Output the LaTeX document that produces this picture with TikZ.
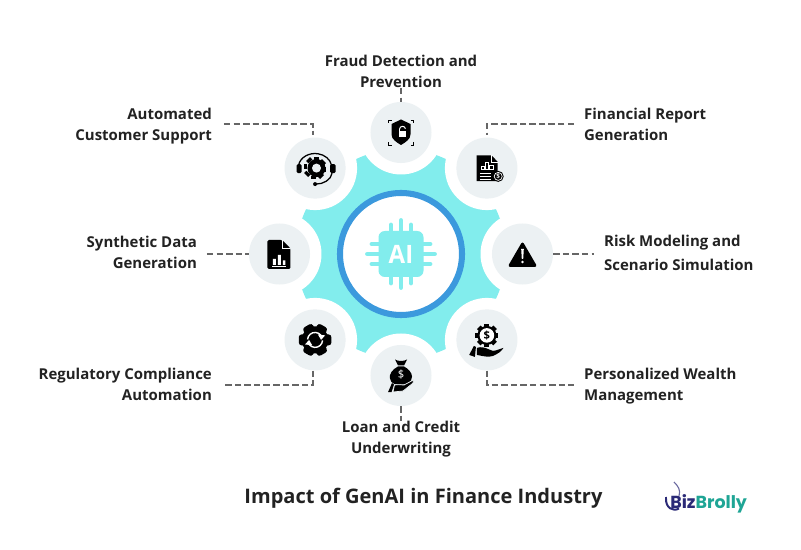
\documentclass[tikz,border=0pt]{standalone}
\usepackage{fontspec}
\setmainfont{Open Sans}
\newfontfamily\logofont{Poppins}
\definecolor{hubteal}{HTML}{82EDED}
\definecolor{ringblue}{HTML}{3B99DD}
\definecolor{badgegrey}{HTML}{ECF1F3}
\definecolor{inkdark}{HTML}{222222}
\definecolor{dashgrey}{HTML}{666666}
\definecolor{logonavy}{HTML}{2B2A77}
\definecolor{logoteal}{HTML}{1FA595}
\tikzset{
	badge/.style={circle, fill=badgegrey, minimum size=1.525cm, inner sep=0pt},
	halo/.style={fill=white},
	lbl/.style={font=\fontsize{10.65}{14.9}\selectfont\bfseries, text=inkdark, inner xsep=7pt, inner ysep=0pt},
	dashline/.style={draw=dashgrey, line width=1.2pt, dash pattern=on 4.6pt off 2.2pt},
	pin/.style={draw=hubteal, line width=3.5pt, line cap=round}
}

\begin{document}
\begin{tikzpicture}[x=0.025cm, y=0.025cm]
	\useasboundingbox (-401,-296) rectangle (400,254);
	% hub
	\fill[hubteal] (0,0) circle (105);
	\foreach \a in {0,45,...,315}
		\fill[halo] (\a:121.5) circle (42);
	\filldraw[draw=ringblue, fill=white, line width=4.3pt] (0,0) circle (61);
	% chip
	\fill[hubteal, rounded corners=4.5pt] (-22.5,-23) rectangle (22.5,23);
	\foreach \a in {0,90,180,270} {
		\draw[pin, rotate=\a] (-10,23) -- (-10,29);
		\draw[pin, rotate=\a] (0,23) -- (0,33.5);
		\draw[pin, rotate=\a] (10,23) -- (10,29);
	}
	\node[white, font=\fontsize{18}{18}\selectfont\bfseries, xscale=0.95, inner sep=0pt] (aitext) at (0,0) {AI};
	% badges
	\node[badge] (fraudbadge) at (90:121.5) {};
	\node[badge] (reportbadge) at (45:121.5) {};
	\node[badge] (riskbadge) at (0:121.5) {};
	\node[badge] (wealthbadge) at (-45:121.5) {};
	\node[badge] (loanbadge) at (-90:121.5) {};
	\node[badge] (compbadge) at (-135:121.5) {};
	\node[badge] (synthbadge) at (180:121.5) {};
	\node[badge] (supportbadge) at (135:121.5) {};
	% labels
	\node[lbl, align=center] (fraudtext) at (0,182.5) {Fraud Detection and\\Prevention};
	\node[lbl, align=right, anchor=east] (supporttext) at (-179,128) {Automated\\Customer Support};
	\node[lbl, align=left, anchor=west] (reporttext) at (173,130) {Financial Report\\Generation};
	\node[lbl, align=right, anchor=east] (synthtext) at (-194,2) {Synthetic Data\\Generation};
	\node[lbl, align=left, anchor=west] (risktext) at (193,1) {Risk Modeling and\\[2.2pt]Scenario Simulation};
	\node[lbl, align=right, anchor=east] (comptext) at (-179,-130) {Regulatory Compliance\\Automation};
	\node[lbl, align=left, anchor=west] (wealthtext) at (173,-132) {Personalized Wealth\\Management};
	\node[lbl, align=center] (loantext) at (0,-185) {Loan and Credit\\Underwriting};
	\node[text=inkdark, font=\fontsize{14.25}{16}\selectfont\bfseries, inner sep=0pt] (titletext) at (22.5,-244) {Impact of GenAI in Finance Industry};
	% connectors
	\coordinate (supportend) at (-177,130);
	\coordinate (reportend) at (173,130);
	\coordinate (compend) at (-177,-131);
	\coordinate (wealthend) at (173,-131);
	\draw[dashline] (fraudtext.south) -- (fraudbadge.north);
	\draw[dashline, shorten >=1.5pt] (supportend) -| (supportbadge.94);
	\draw[dashline, shorten >=1.5pt] (reportend) -| (reportbadge.north);
	\draw[dashline] (synthtext.east |- synthbadge.west) -- (synthbadge.west);
	\draw[dashline] (riskbadge.east) -- (risktext.west |- riskbadge.east);
	\draw[dashline] (compbadge.266) |- (compend);
	\draw[dashline] (wealthbadge.south) |- (wealthend);
	\draw[dashline] (loanbadge.south) -- (loantext.north);
	% shield
	\begin{scope}[shift={(fraudbadge)}]
		\fill (0,13) -- (9.5,8.5) -- (9.5,-2) .. controls (9.5,-7) and (4,-10) .. (0,-12.5) .. controls (-4,-10) and (-9.5,-7) .. (-9.5,-2) -- (-9.5,8.5) -- cycle;
		\fill[white] (-2.5,-4.5) rectangle (5,1);
		\draw[white, line width=0.7pt] (-1.5,1) -- (-1.5,3.2) arc (180:10:3);
		\foreach \a in {0,90,180,270}
			\draw[line width=0.5pt, rotate=\a] (9.5,12.5) -- (12.5,12.5) -- (12.5,9.5);
	\end{scope}
	% report
	\begin{scope}[shift={(reportbadge)}]
		\fill (-10.3,12.7) -- (4.7,12.7) -- (10.7,6.3) -- (10.7,-13) -- (-10.3,-13) -- cycle;
		\draw[white, line width=0.4pt] (4.7,12.7) -- (4.7,6.3) -- (10.7,6.3);
		\draw[white, line width=0.5pt] (-5.5,-1.5) rectangle (-3,2) (-1.5,-1.5) rectangle (1,6) (2.5,-1.5) rectangle (6,2.5);
		\foreach \y in {-5,-8,-11}
			\draw[white, line width=0.6pt] (-7,\y) -- (4,\y);
		\fill[black] (11.3,-8.3) circle (5.5);
		\draw[white, line width=0.5pt] (11.3,-8.3) circle (4);
		\node[white, font=\fontsize{4.5}{5}\selectfont\bfseries, inner sep=0pt] (reportcoin) at (11.3,-8.3) {\$};
	\end{scope}
	% warning
	\begin{scope}[shift={(riskbadge)}]
		\filldraw[line width=2pt, line join=round] (0,10) -- (12.5,-11.5) -- (-12.5,-11.5) -- cycle;
		\fill[white] (-1.3,5) -- (1.3,5) -- (0.7,-5) -- (-0.7,-5) -- cycle;
		\fill[white] (0,-8) circle (1.4);
	\end{scope}
	% hand and gear
	\begin{scope}[shift={(wealthbadge)}]
		\foreach \a in {0,45,...,315}
			\fill[rotate around={\a:(0,4.5)}] (-2.5,12) rectangle (2.5,16);
		\fill (0,4.5) circle (9.5);
		\fill[white] (0,4.5) circle (7.3);
		\node[font=\fontsize{8}{8}\selectfont\bfseries, inner sep=0pt] (wealthcoin) at (0,4.5) {\$};
		\fill (-13,-6) -- (-11,-7) -- (-12,-17) -- (-17.7,-15) -- cycle;
		\fill (-10,-8) .. controls (-6,-6.5) and (-2,-7.5) .. (2,-9.5) .. controls (5,-11) and (7,-11.5) .. (9,-10.5) -- (16.5,-8) .. controls (15,-11) and (11,-14) .. (6,-16) .. controls (2,-17.5) and (-3,-16.5) .. (-10,-15) -- cycle;
	\end{scope}
	% money bag
	\begin{scope}[shift={(loanbadge)}]
		\fill (-6,16) .. controls (-3,14) and (3,14) .. (6,16) -- (3,10) -- (-3,10) -- cycle;
		\fill (-3,9) .. controls (-9,6) and (-12,1) .. (-11,-3) .. controls (-10,-9) and (-5,-9) .. (0,-9) .. controls (6,-9) and (11,-7) .. (11,-1) .. controls (11,3) and (7,7) .. (3,9) -- cycle;
		\node[white, font=\fontsize{8}{8}\selectfont, inner sep=0pt] (loancoin) at (0,1) {\$};
		\fill (-9,-7.5) -- (-7,-9) -- (-9.5,-16.7) -- (-13,-16.7) -- cycle;
		\filldraw[draw=badgegrey, line width=0.5pt] (-6.5,-9.5) .. controls (-4,-8.5) and (-1,-9.5) .. (3,-9.5) -- (12.5,-4.5) .. controls (13,-6.5) and (12,-8) .. (9,-10) -- (2,-15.5) -- (-8,-16.5) -- cycle;
	\end{scope}
	% gear with arrows
	\begin{scope}[shift={(compbadge)}]
		\foreach \a in {30,90,...,330}
			\fill[rotate=\a, rounded corners=2pt] (-5.5,8) rectangle (5.5,16.3);
		\fill (0,0) circle (13.5);
		\foreach \a in {0,180} {
			\draw[white, line width=1pt, rotate=\a] (-7.5,0.5) arc (176:40:7.5);
			\fill[white, rotate=\a] (2.8,5.5) -- (10,4.5) -- (6,0) -- cycle;
		}
	\end{scope}
	% document with bars
	\begin{scope}[shift={(synthbadge)}]
		\fill[rounded corners=1pt] (-12,14) -- (2.5,14) -- (11,5.5) -- (11,-15) -- (-12,-15) -- cycle;
		\draw[white, line width=0.6pt] (2.5,14) -- (2.5,5.5) -- (11,5.5);
		\fill[white] (-6.5,-11) rectangle (-3.5,-5) (-1.5,-11) rectangle (1.5,-1) (3.5,-11) rectangle (6,-6.5);
		\fill[white] (-7,-13) rectangle (6.5,-12);
	\end{scope}
	% headset with gear
	\begin{scope}[shift={(supportbadge)}]
		\foreach \a in {0,45,...,315}
			\fill[rotate=\a, xshift=1pt] (-2.8,8) rectangle (2.8,11.3);
		\fill[xshift=1pt] (0,0) circle (9);
		\fill[badgegrey, xshift=1pt] (0,0) circle (4.5);
		\draw[line width=0.9pt] (-16.5,3) arc (170:10:16.7 and 14);
		\fill[rounded corners=1pt] (-18.5,-5) rectangle (-13.5,4);
		\fill[rounded corners=1pt] (15,-5) rectangle (20.5,4);
		\draw[line width=0.9pt] (17,-5) .. controls (16,-12) and (8,-16) .. (1,-16);
		\fill (0,-16) circle (2);
	\end{scope}
	% logo
	\node[font=\logofont\fontsize{12.4}{13}\selectfont\bfseries, inner sep=0pt, anchor=base west] (logotext) at (269,-254) {\textcolor{logonavy}{Biz}\textcolor{logoteal}{Brolly}};
	\draw[logonavy, line width=1.4pt] (265,-243) .. controls (264,-254) and (272,-258) .. (278,-254.5);
	\draw[logonavy!70, line width=0.8pt] (278,-242) .. controls (280,-236) and (277,-232) .. (273,-228);
\end{tikzpicture}
\end{document}
